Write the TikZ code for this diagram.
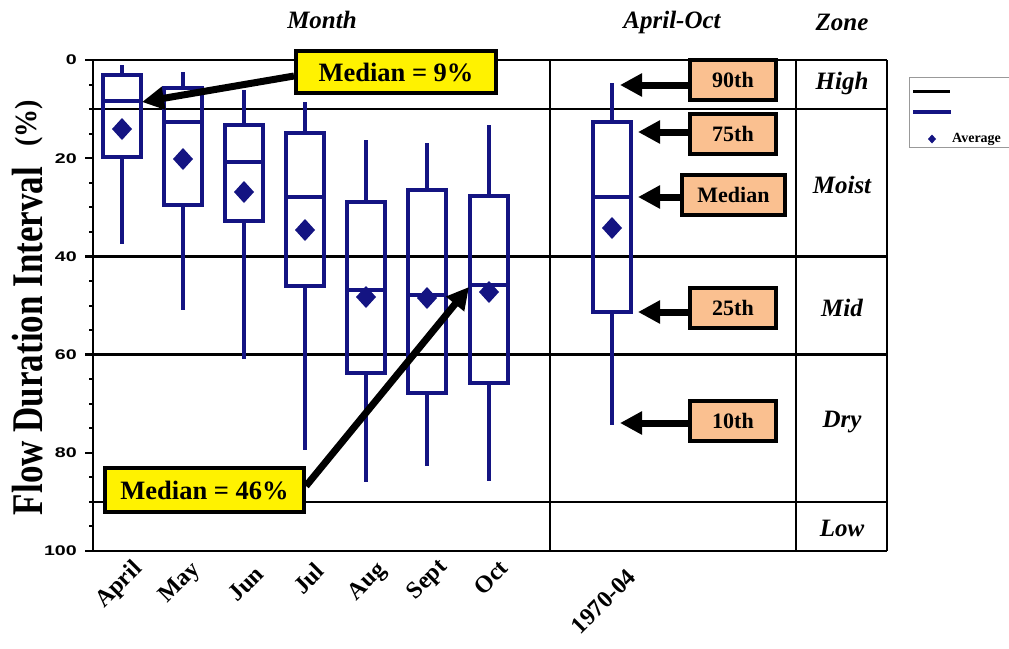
\documentclass[tikz,border=0pt]{standalone}
\usepackage{fontspec}
\setmainfont{Liberation Serif}
\newfontfamily\arialf{Liberation Sans}
\usetikzlibrary{arrows.meta}
\definecolor{bpblue}{RGB}{20,20,130}
\definecolor{peach}{RGB}{250,192,144}
\newcommand\bpbox[7]{%
  \draw[bp] (#1,#2) -- (#1,#3);
  \draw[bp] ({#1-19},#3) rectangle ({#1+19},#5);
  \draw[bp] ({#1-19},#4) -- ({#1+19},#4);
  \draw[bp] (#1,#5) -- (#1,#6);
  \fill[bpblue] (#1,#7) +(-10,0) -- +(0,11) -- +(10,0) -- +(0,-11) -- cycle;
}
\begin{document}
\begin{tikzpicture}[x=1pt,y=-1pt,
  bp/.style={draw=bpblue,line width=3.5pt},
  gridline/.style={black,line width=2.7pt},
  hdr/.style={font=\fontsize{25}{25}\selectfont\bfseries\itshape},
  zonelab/.style={font=\fontsize{25}{25}\selectfont\bfseries\itshape},
  ticklab/.style={font=\fontsize{14}{14}\selectfont\arialf\bfseries, anchor=east, inner sep=0pt},
  xlab/.style={font=\fontsize{24}{24}\selectfont\bfseries, rotate=45, anchor=east, inner sep=0pt},
  callout/.style={draw=black, line width=4pt, fill=yellow, font=\fontsize{26.5}{26.5}\selectfont\bfseries, inner sep=0pt},
  pct/.style={draw=black, line width=4pt, fill=peach, font=\fontsize{22}{22}\selectfont\bfseries, inner sep=0pt, minimum height=40pt},
  bigarrow/.style={black, line width=7pt, -{Triangle[length=22pt,width=22pt]}},
]
\useasboundingbox (0,0) rectangle (1009,648);

% grid and axis
\draw[gridline] (85,60) -- (887,60);
\draw[gridline] (85,551) -- (887,551);
\foreach \yy in {109,256.4,354.6,501.9} \draw[gridline] (93,\yy) -- (887,\yy);
\draw[gridline] (93,60) -- (93,551);
\draw[black,line width=2.2pt] (550,60) -- (550,551);
\draw[black,line width=2.2pt] (796,60) -- (796,551);
\draw[gridline] (887,60) -- (887,551);
\foreach \v in {0,20,...,100} {
  \draw[black,line width=2.5pt] (85,{60+4.91*\v}) -- (93,{60+4.91*\v});
  \node[ticklab] (t\v) at (77,{60+4.91*\v}) {\scalebox{1.4}[1]{\v}};
}
\foreach \v in {5,10,15,25,30,35,45,50,55,65,70,75,85,90,95}
  \draw[black,line width=2pt] (89,{60+4.91*\v}) -- (93,{60+4.91*\v});

% box plots
\bpbox{122}{65}{75}{101}{157}{244}{129}
\bpbox{183}{72}{88}{122}{205}{310}{159}
\bpbox{244}{90}{125}{162}{221}{359}{192}
\bpbox{305}{102}{133}{197}{286}{450}{230}
\bpbox{366}{140}{202}{290}{373}{482}{297}
\bpbox{427}{143}{190}{295}{393}{466}{298}
\bpbox{489}{125}{196}{285}{383}{481}{292}
\bpbox{612}{83}{122}{197}{312}{425}{228}

% headers
\node[hdr] (hmonth) at (322,20) {Month};
\node[hdr] (hapr) at (672,22) {April-Oct};
\node[hdr] (hzone) at (842,22) {Zone};
\node[zonelab] (zhigh) at (842,83) {High};
\node[zonelab] (zmoist) at (842,185) {Moist};
\node[zonelab] (zmid) at (842,308) {Mid};
\node[zonelab] (zdry) at (842,422) {Dry};
\node[zonelab] (zlow) at (842,528) {Low};

% y axis label
\node[rotate=90, font=\fontsize{35}{35}\selectfont\bfseries, inner sep=0pt] (ylab) at (28,341) {\scalebox{1}[1.25]{Flow Duration Interval}};
\node[rotate=90, font=\fontsize{28}{28}\selectfont\bfseries, inner sep=0pt] (ypct) at (29,123) {\scalebox{1}[1.1]{(\%)}};

% x labels
\node[xlab] (xapr) at (139,566) {April};
\node[xlab] (xmay) at (197,567) {May};
\node[xlab] (xjun) at (260,570) {Jun};
\node[xlab] (xjul) at (320,567) {Jul};
\node[xlab] (xaug) at (383,567) {Aug};
\node[xlab] (xsep) at (444,564) {Sept};
\node[xlab] (xoct) at (504,564) {Oct};
\node[xlab] (x7004) at (632,573) {1970-04};

% callouts
\node[callout, minimum width=200pt, minimum height=42pt] (m9) at (396,72) {Median = 9\%};
\node[callout, minimum width=199pt, minimum height=44pt] (m46) at (204.5,490) {Median = 46\%};
\coordinate (t9) at (142,102);
\coordinate (t46) at (469,287);
\draw[bigarrow] ([yshift=-4pt]m9.west) -- (t9);
\draw[bigarrow] ([yshift=4pt]m46.east) -- (t46);

% percentile labels
\node[pct, minimum width=86pt] (p90) at (733,80) {90th};
\node[pct, minimum width=86pt] (p75) at (733,134) {75th};
\node[pct, minimum width=103pt] (pmed) at (733.5,195) {Median};
\node[pct, minimum width=86pt] (p25) at (733,307.5) {25th};
\node[pct, minimum width=86pt] (p10) at (733,421) {10th};
\coordinate (a90) at (620,85);
\coordinate (a75) at (638,132);
\coordinate (amed) at (638,197);
\coordinate (a25) at (638,312);
\coordinate (a10) at (620,423);
\draw[bigarrow] (p90.west |- a90) -- (a90);
\draw[bigarrow] (p75.west |- a75) -- (a75);
\draw[bigarrow] (pmed.west |- amed) -- (amed);
\draw[bigarrow] (p25.west |- a25) -- (a25);
\draw[bigarrow] (p10.west |- a10) -- (a10);

% legend
\draw[gray!80, line width=1pt] (1015,77) -- (909,77) -- (909,147) -- (1015,147);
\draw[black, line width=3pt] (913,91) -- (950,91);
\draw[bpblue, line width=3.5pt] (913,112) -- (951,112);
\fill[bpblue] (932,139) +(-4,0) -- +(0,4.5) -- +(4,0) -- +(0,-4.5) -- cycle;
\node[font=\fontsize{14}{14}\selectfont\bfseries, anchor=west, inner sep=0pt] (lavg) at (952,139) {Average};
\end{tikzpicture}
\end{document}
